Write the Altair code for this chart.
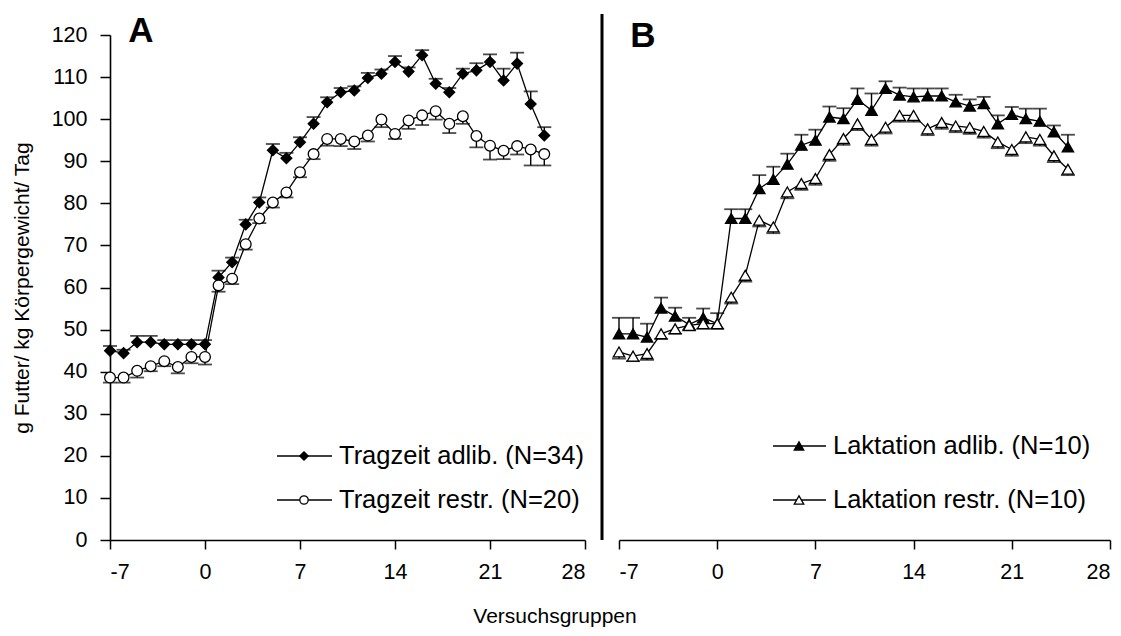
import altair as alt
import pandas as pd

# Versuchstage (Tag 0 = Umstellung)
days = list(range(-7, 26))

# Panel A: Tragzeit
tragzeit_adlib = [45.0, 44.4, 47.0, 47.0, 46.5, 46.5, 46.5, 46.5,
                  62.4, 66.0, 75.0, 80.2, 92.6, 90.7, 94.5, 98.9, 104.0, 106.4,
                  106.8, 109.8, 110.8, 113.6, 111.3, 115.2, 108.4, 106.4, 110.8,
                  111.6, 113.6, 109.2, 113.2, 103.6, 96.1]
tragzeit_adlib_se = [1.1, 0.8, 1.5, 1.5, 1.0, 1.0, 1.0, 1.0,
                     1.6, 1.1, 1.1, 1.2, 1.5, 1.3, 1.2, 1.6, 1.2, 1.0,
                     1.0, 1.2, 1.0, 1.4, 1.0, 1.2, 1.2, 1.0, 1.2,
                     1.7, 1.8, 2.8, 2.6, 3.0, 2.0]
tragzeit_restr = [38.6, 38.6, 40.2, 41.3, 42.5, 41.1, 43.5, 43.5,
                  60.5, 62.1, 70.3, 76.4, 80.2, 82.6, 87.4, 91.7, 95.3, 95.3,
                  94.7, 96.1, 99.9, 96.5, 99.7, 100.9, 101.9, 98.9, 100.7,
                  96.0, 93.7, 92.5, 93.6, 92.8, 91.7]
tragzeit_restr_se = [1.2, 1.2, 1.6, 1.2, 1.2, 1.5, 1.5, 1.8,
                     1.5, 1.3, 1.3, 1.1, 1.2, 1.2, 1.2, 1.2, 1.6, 1.7,
                     1.8, 1.4, 1.8, 1.2, 2.0, 2.3, 2.0, 2.2, 1.8,
                     2.7, 3.3, 2.0, 2.0, 3.8, 2.7]

# Panel B: Laktation
laktation_adlib = [49.0, 49.0, 48.2, 55.1, 53.2, 51.2, 52.8, 51.4,
                   76.4, 76.4, 83.5, 85.7, 89.3, 93.8, 95.0, 100.5, 100.1, 104.7,
                   102.1, 107.3, 105.7, 105.3, 105.5, 105.5, 104.1, 103.1, 103.7,
                   98.9, 101.1, 100.1, 99.5, 97.0, 93.4]
laktation_adlib_se = [3.8, 3.8, 3.2, 2.5, 2.0, 1.6, 2.2, 2.5,
                      2.2, 2.2, 3.2, 3.0, 2.5, 2.5, 2.5, 2.5, 2.5, 2.6,
                      4.0, 1.7, 1.8, 2.0, 1.8, 1.8, 1.7, 1.6, 1.6,
                      2.0, 1.8, 2.4, 3.0, 1.5, 2.9]
laktation_restr = [44.7, 43.7, 44.3, 49.0, 50.2, 51.0, 51.4, 51.4,
                   57.7, 62.9, 76.0, 74.4, 82.7, 84.7, 85.9, 91.6, 95.4, 98.9,
                   95.2, 98.1, 100.9, 100.9, 97.7, 99.2, 98.4, 98.0, 97.1,
                   94.6, 92.8, 95.8, 95.2, 91.3, 88.1]
laktation_restr_se = [1.6, 1.2, 1.5, 1.2, 1.2, 1.2, 1.2, 1.2,
                      1.5, 1.5, 1.5, 1.5, 1.5, 1.5, 1.5, 1.5, 1.5, 1.5,
                      1.5, 1.5, 1.5, 1.5, 1.5, 1.5, 1.5, 1.5, 1.5,
                      1.5, 1.5, 1.5, 1.5, 1.5, 1.4]

legend_a = ["Tragzeit adlib. (N=34)", "Tragzeit restr. (N=20)"]
legend_b = ["Laktation adlib. (N=10)", "Laktation restr. (N=10)"]

x_ticks = [-7, 0, 7, 14, 21, 28]
y_ticks = list(range(0, 121, 10))

FONT = "Liberation Sans"
PLOT_H = 505


def frame(values, se, upward):
    df = pd.DataFrame({"tag": days, "wert": values, "se": se})
    if upward:
        df["lo"] = df["wert"]
        df["hi"] = df["wert"] + df["se"]
        df["cap"] = df["hi"]
    else:
        df["lo"] = df["wert"] - df["se"]
        df["hi"] = df["wert"]
        df["cap"] = df["lo"]
    return df


def panel(width, adlib, adlib_se, restr, restr_se, shape_adlib, shape_restr,
          size_pt, size_leg, labels, leg_geom, letter, letter_xy, y_axis):
    xs = alt.Scale(domain=[-7, 28], nice=False, zero=False)
    ys = alt.Scale(domain=[0, 120], nice=False, zero=True)
    x_axis = alt.Axis(values=x_ticks, title=None, grid=False,
                      labelExpr="toString(datum.value)")
    if y_axis:
        yax = alt.Axis(values=y_ticks, grid=False,
                       title="g Futter/ kg Körpergewicht/ Tag",
                       titleAngle=270, titleX=-88, titleY=PLOT_H / 2,
                       titleAlign="center", titleBaseline="middle",
                       titleFont=FONT, titleFontSize=21, titleFontWeight="normal",
                       titleColor="black")
    else:
        yax = None

    def X(field):
        return alt.X(field, type="quantitative", scale=xs, axis=x_axis)

    def Y(field):
        return alt.Y(field, type="quantitative", scale=ys, axis=yax)

    layers = []
    for vals, se, up, shape, fill in [
        (adlib, adlib_se, True, shape_adlib, "black"),
        (restr, restr_se, False, shape_restr, "white"),
    ]:
        df = frame(vals, se, up)
        base = alt.Chart(df)
        layers.append(base.mark_rule(color="black", strokeWidth=1.4).encode(
            x=X("tag"), y=Y("lo"), y2="hi"))
        layers.append(base.mark_tick(orient="horizontal", color="black",
                                     size=14, thickness=1.8).encode(
            x=X("tag"), y=Y("cap")))
        layers.append(base.mark_line(color="black", strokeWidth=1.3).encode(
            x=X("tag"), y=Y("wert")))
        layers.append(base.mark_point(shape=shape, filled=True, fill=fill,
                                      stroke="black", strokeWidth=1.3,
                                      size=size_pt, opacity=1).encode(
            x=X("tag"), y=Y("wert")))

    # legend entries: line with marker, followed by the label
    x0, x1, xm, xt, rows = leg_geom
    for label, row_y, shape, fill in [
        (labels[0], rows[0], shape_adlib, "black"),
        (labels[1], rows[1], shape_restr, "white"),
    ]:
        lb = alt.Chart(pd.DataFrame({"label": [label]}))
        layers.append(lb.mark_rule(color="black", strokeWidth=1.4).encode(
            x=alt.value(x0), x2=alt.value(x1), y=alt.value(row_y)))
        layers.append(lb.mark_point(shape=shape, filled=True, fill=fill,
                                    stroke="black", strokeWidth=1.3,
                                    size=size_leg, opacity=1).encode(
            x=alt.value(xm), y=alt.value(row_y)))
        layers.append(lb.mark_text(align="left", baseline="middle", font=FONT,
                                   fontSize=25.5, color="black").encode(
            x=alt.value(xt), y=alt.value(row_y), text="label:N"))

    # panel letter
    lt = alt.Chart(pd.DataFrame({"t": [letter]}))
    layers.append(lt.mark_text(align="center", baseline="top", font=FONT,
                               fontSize=35, fontWeight="bold", color="black").encode(
        x=alt.value(letter_xy[0]), y=alt.value(letter_xy[1]), text="t:N"))

    return alt.layer(*layers).properties(width=width, height=PLOT_H)


panel_a = panel(475, tragzeit_adlib, tragzeit_adlib_se, tragzeit_restr,
                tragzeit_restr_se, "diamond", "circle", 115, 70, legend_a,
                (167, 222, 194, 229, (421, 465)), "A", (31, -21), True)

# x-axis title, centred under both panels
xt = alt.Chart(pd.DataFrame({"t": ["Versuchsgruppen"]})).mark_text(
    align="center", baseline="middle", font=FONT, fontSize=21, color="black"
).encode(x=alt.value(445), y=alt.value(582), text="t:N")
panel_a = alt.layer(panel_a, xt)

panel_b = panel(491, laktation_adlib, laktation_adlib_se, laktation_restr,
                laktation_restr_se, "triangle-up", "triangle-up", 130, 90,
                legend_b, (154, 207, 180, 214, (411, 465)), "B", (24, -16), False)

# heavy vertical separator left of panel B
sep = alt.Chart(pd.DataFrame({"s": [0]})).mark_rule(
    color="black", strokeWidth=3).encode(
    x=alt.value(-17), y=alt.value(-21), y2=alt.value(PLOT_H))
panel_b = alt.layer(panel_b, sep)

chart = alt.hconcat(panel_a, panel_b, spacing=34, bounds="flush").properties(
    padding={"left": 11, "top": 12, "right": 5, "bottom": 5},
    background="white",
).configure_view(stroke=None).configure_axis(
    domainColor="black", domainWidth=1.6, tickColor="black",
    tickWidth=1.5, labelFont=FONT, labelFontSize=21.5, labelColor="black",
    grid=False,
).configure_axisX(tickSize=9, labelPadding=12).configure_axisY(
    tickSize=10, labelPadding=13)

chart.save("out.html", embed_options={"renderer": "svg", "actions": False})
